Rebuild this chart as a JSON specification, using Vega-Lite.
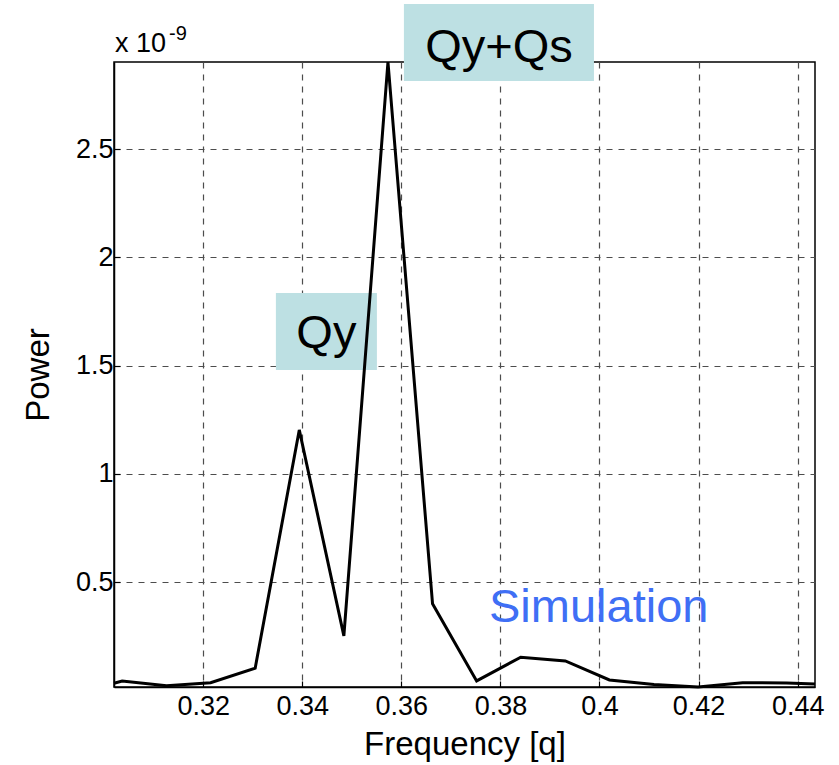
{
  "$schema": "https://vega.github.io/schema/vega-lite/v6.json",
  "width": 701,
  "height": 625,
  "autosize": {"type": "none"},
  "padding": {"left": 114, "top": 62, "right": 24, "bottom": 78},
  "background": "white",
  "config": {
    "view": {"stroke": "black", "strokeWidth": 1.5},
    "font": "Liberation Sans",
    "axis": {
      "grid": true,
      "gridDash": [6, 6],
      "gridColor": "#4d4d4d",
      "gridWidth": 1.2,
      "domainColor": "black",
      "domainWidth": 1.5,
      "tickColor": "black",
      "tickWidth": 1.2,
      "tickSize": -6,
      "labelFontSize": 27,
      "labelColor": "black",
      "titleFontSize": 33,
      "titleFontWeight": "normal",
      "titleColor": "black"
    }
  },
  "layer": [
    {
      "data": {
        "values": [
          {"box": "Qy", "x1": 0.33468, "x2": 0.35507, "y1": 1.4806, "y2": 1.836},
          {"box": "Qy+Qs", "x1": 0.36052, "x2": 0.39888, "y1": 2.8155, "y2": 3.171}
        ]
      },
      "mark": {"type": "rect", "color": "#bde0e3", "clip": false},
      "encoding": {
        "x": {"field": "x1", "type": "quantitative", "scale": {"domain": [0.302, 0.4435], "nice": false, "zero": false},
          "axis": {"values": [0.32, 0.34, 0.36, 0.38, 0.4, 0.42, 0.44], "labelExpr": "toString(datum.value)", "title": "Frequency [q]", "labelPadding": 12, "titlePadding": 9}},
        "x2": {"field": "x2"},
        "y": {"field": "y1", "type": "quantitative", "scale": {"domain": [0.016, 2.903], "nice": false, "zero": false},
          "axis": {"values": [0.5, 1, 1.5, 2, 2.5], "labelExpr": "toString(datum.value)", "title": "Power", "labelPadding": 7, "titlePadding": 20}},
        "y2": {"field": "y2"}
      }
    },
    {
      "data": {
        "values": [
          {"f": 0.302, "p": 0.0335},
          {"f": 0.30365, "p": 0.044},
          {"f": 0.3126, "p": 0.022},
          {"f": 0.3215, "p": 0.036},
          {"f": 0.3305, "p": 0.103},
          {"f": 0.3394, "p": 1.2035},
          {"f": 0.3484, "p": 0.252},
          {"f": 0.3573, "p": 2.903},
          {"f": 0.3663, "p": 0.4},
          {"f": 0.3752, "p": 0.044},
          {"f": 0.3841, "p": 0.1536},
          {"f": 0.3931, "p": 0.1365},
          {"f": 0.402, "p": 0.0487},
          {"f": 0.411, "p": 0.028},
          {"f": 0.4199, "p": 0.016},
          {"f": 0.4289, "p": 0.036},
          {"f": 0.4378, "p": 0.035},
          {"f": 0.4435, "p": 0.03}
        ]
      },
      "mark": {"type": "line", "color": "black", "strokeWidth": 3},
      "encoding": {
        "x": {"field": "f", "type": "quantitative"},
        "y": {"field": "p", "type": "quantitative"}
      }
    },
    {
      "data": {"values": [{"label": "Qy+Qs", "x": 0.3797, "y": 2.9046}, {"label": "Qy", "x": 0.34487, "y": 1.581}]},
      "mark": {"type": "text", "fontSize": 47, "align": "center", "baseline": "alphabetic", "color": "black", "clip": false},
      "encoding": {
        "x": {"field": "x", "type": "quantitative"},
        "y": {"field": "y", "type": "quantitative"},
        "text": {"field": "label"}
      }
    },
    {
      "data": {"values": [{"label": "Simulation", "x": 0.3777, "y": 0.3166}]},
      "mark": {"type": "text", "fontSize": 47, "align": "left", "baseline": "alphabetic", "color": "#3f6ff5"},
      "encoding": {
        "x": {"field": "x", "type": "quantitative"},
        "y": {"field": "y", "type": "quantitative"},
        "text": {"field": "label"}
      }
    },
    {
      "data": {"values": [{"label": "x 10", "x": 0.3022, "y": 2.9494}]},
      "mark": {"type": "text", "fontSize": 27, "align": "left", "baseline": "alphabetic", "color": "black", "clip": false},
      "encoding": {
        "x": {"field": "x", "type": "quantitative"},
        "y": {"field": "y", "type": "quantitative"},
        "text": {"field": "label"}
      }
    },
    {
      "data": {"values": [{"label": "-9", "x": 0.3131, "y": 3.0048}]},
      "mark": {"type": "text", "fontSize": 20, "align": "left", "baseline": "alphabetic", "color": "black", "clip": false},
      "encoding": {
        "x": {"field": "x", "type": "quantitative"},
        "y": {"field": "y", "type": "quantitative"},
        "text": {"field": "label"}
      }
    }
  ]
}
